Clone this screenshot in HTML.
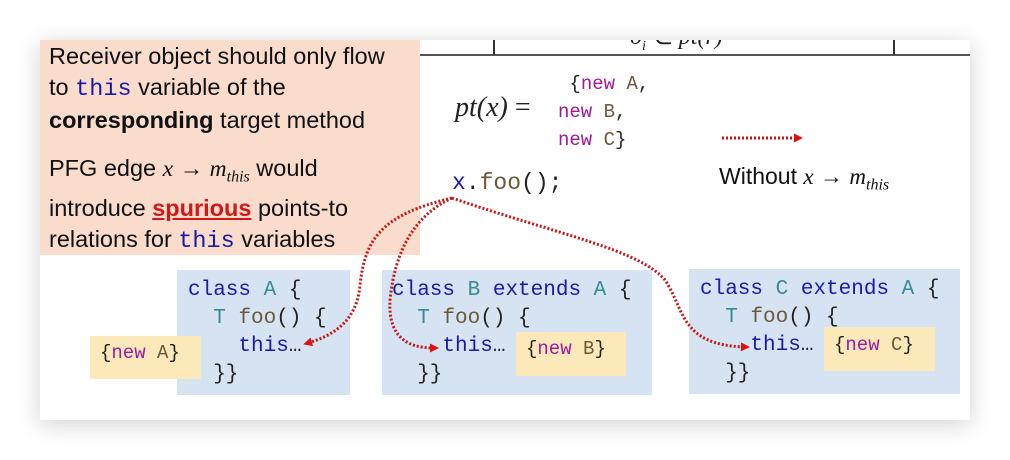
<!DOCTYPE html>
<html><head><meta charset="utf-8"><style>
body{margin:0;width:1010px;height:460px;background:#fff;position:relative;overflow:hidden;font-family:"Liberation Sans",sans-serif}
.slide{position:absolute;left:40px;top:40px;width:930px;height:380px;background:#fff;box-shadow:0 4px 22px rgba(0,0,0,.18)}
.abs{position:absolute;white-space:pre}
.mono{font-family:"Liberation Mono",monospace}
.box{position:absolute;background:#d6e3f3}
.y{position:absolute;background:#fbe9b9}
.kw{color:#1a1aa8}.cl{color:#3a8a96}.fn{color:#6b5a3a}.nw{color:#a0189e}.bd{color:#222}
.code{font-size:21px;line-height:28px;color:#222}
</style></head><body>
<div class="slide"></div>
<div class="abs" style="left:40px;top:40px;width:380px;height:215px;background:#f9dccb"></div>
<div class="abs" style="left:420px;top:54px;width:550px;height:1.5px;background:#555"></div>
<div class="abs" style="left:493px;top:40px;width:2px;height:15px;background:#333"></div>
<div class="abs" style="left:893px;top:40px;width:2px;height:15px;background:#333"></div>
<div class="abs" style="left:600px;top:40px;width:160px;height:10px;overflow:hidden"><div class="abs" style="left:30px;top:-18px;font-family:'Liberation Serif',serif;font-style:italic;font-size:24px;color:#222">o<sub style="font-size:14px">i</sub> ∈ pt(r)</div></div>
<div class="abs" style="left:49px;top:41px;font-size:23.5px;line-height:31px;color:#111">Receiver object should only flow
to <span class="mono" style="color:#1a1aa8">this</span> variable of the
<b>corresponding</b> target method</div>
<div class="abs" style="left:49px;top:153px;font-size:23.5px;line-height:31px;color:#111">PFG edge <i style="font-family:'Liberation Serif',serif">x</i> → <i style="font-family:'Liberation Serif',serif">m<sub style="font-size:16px">this</sub></i> would
introduce <b style="color:#d01818;text-decoration:underline">spurious</b> points-to
relations for <span class="mono" style="color:#1a1aa8">this</span> variables</div>

<div class="abs" style="left:455px;top:92px;font-family:'Liberation Serif',serif;font-style:italic;font-size:28px;color:#222">pt(x) <span style="font-style:normal">=</span></div>
<div class="abs mono" style="left:558px;top:70px;font-size:19px;line-height:28px;color:#222"> {<span class="nw">new</span> <span class="fn">A</span>,
<span class="nw">new</span> <span class="fn">B</span>,
<span class="nw">new</span> <span class="fn">C</span>}</div>
<div class="abs mono" style="left:452px;top:170px;font-size:23px;color:#222"><span class="kw">x</span>.<span class="fn">foo</span>();</div>
<div class="abs" style="left:719px;top:163px;font-size:23px;color:#111">Without <i style="font-family:'Liberation Serif',serif">x</i> → <i style="font-family:'Liberation Serif',serif">m<sub style="font-size:16px">this</sub></i></div>

<div class="box" style="left:177px;top:270px;width:173px;height:125px"></div>
<div class="box" style="left:382px;top:270px;width:270px;height:125px"></div>
<div class="box" style="left:689px;top:269px;width:271px;height:125px"></div>
<div class="y" style="left:90px;top:336px;width:111px;height:43px"></div>
<div class="y" style="left:516px;top:332px;width:110px;height:44px"></div>
<div class="y" style="left:824px;top:327px;width:111px;height:44px"></div>

<div class="abs mono code" style="left:188px;top:277px"><span class="kw">class</span> <span class="cl">A</span> {
  <span class="cl">T</span> <span class="fn">foo</span>() {
    <span class="kw">this</span>…
  }}</div>
<div class="abs mono" style="left:100px;top:339px;font-size:19px;line-height:28px;color:#222">{<span class="nw">new</span> <span class="fn">A</span>}</div>

<div class="abs mono code" style="left:392px;top:277px"><span class="kw">class</span> <span class="cl">B</span> <span class="kw">extends</span> <span class="cl">A</span> {
  <span class="cl">T</span> <span class="fn">foo</span>() {
    <span class="kw">this</span>…
  }}</div>
<div class="abs mono" style="left:526px;top:335px;font-size:19px;line-height:28px;color:#222">{<span class="nw">new</span> <span class="fn">B</span>}</div>

<div class="abs mono code" style="left:700px;top:276px"><span class="kw">class</span> <span class="cl">C</span> <span class="kw">extends</span> <span class="cl">A</span> {
  <span class="cl">T</span> <span class="fn">foo</span>() {
    <span class="kw">this</span>…
  }}</div>
<div class="abs mono" style="left:834px;top:331px;font-size:19px;line-height:28px;color:#222">{<span class="nw">new</span> <span class="fn">C</span>}</div>

<svg class="abs" style="left:0;top:0" width="1010" height="460">
<defs><marker id="a" markerWidth="9" markerHeight="9" refX="4" refY="4.5" orient="auto" markerUnits="userSpaceOnUse"><path d="M0,0 L9,4.5 L0,9z" fill="#e01010"/></marker></defs>
<g fill="none" stroke="#c81414" stroke-width="3" stroke-dasharray="2 2">
<path d="M452,198 C380,215 365,240 360,285 C357,320 335,335 308,343" marker-end="url(#a)"/>
<path d="M452,198 C415,215 395,250 390,300 C388,335 405,348 434,348" marker-end="url(#a)"/>
<path d="M452,198 C560,235 640,250 665,280 C685,310 680,345 745,347" marker-end="url(#a)"/>
<path d="M722,138 L798,138" marker-end="url(#a)"/>
</g>
</svg>
</body></html>
